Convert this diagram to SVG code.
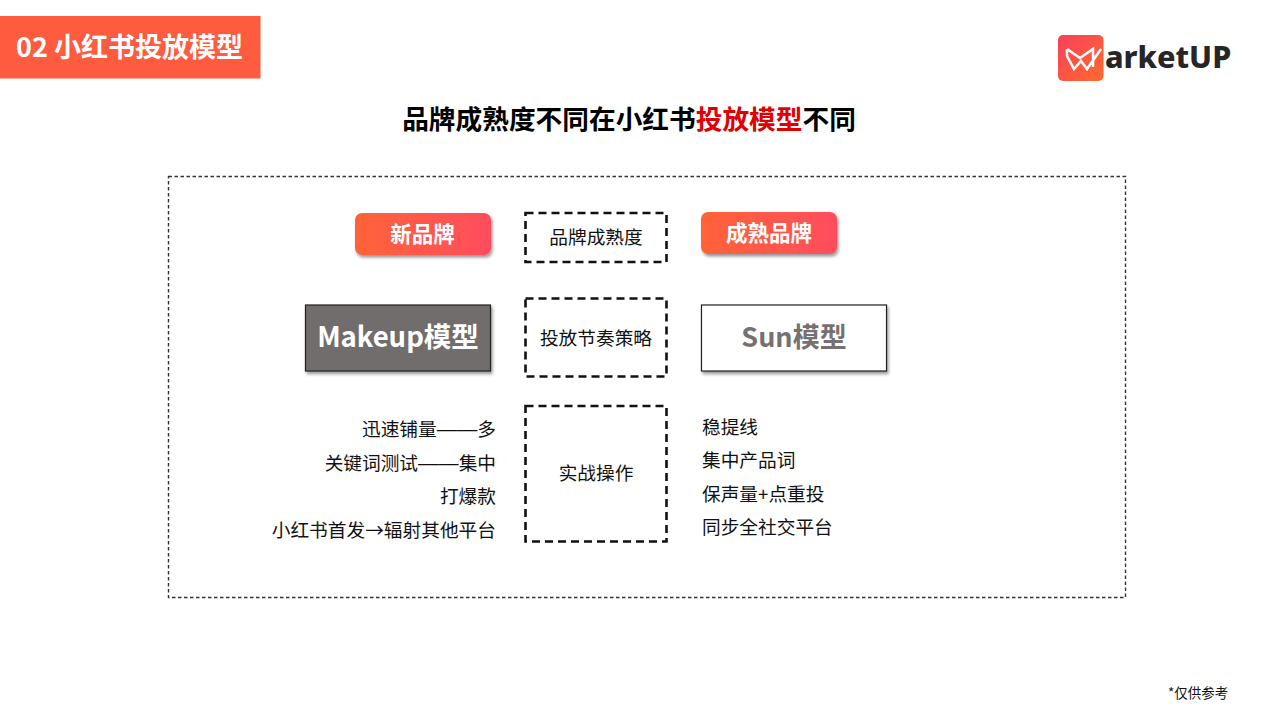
<svg xmlns="http://www.w3.org/2000/svg" width="1280" height="720" viewBox="0 0 1280 720">
<defs>
<linearGradient id="grad" x1="0" y1="0" x2="1" y2="0"><stop offset="0" stop-color="#ff6338"/><stop offset="1" stop-color="#ff4d5e"/></linearGradient>
<linearGradient id="logoGrad" x1="0" y1="0" x2="1" y2="1"><stop offset="0" stop-color="#f8405c"/><stop offset="1" stop-color="#ff6a2c"/></linearGradient>
<filter id="sh" x="-10%" y="-20%" width="125%" height="150%"><feDropShadow dx="1.5" dy="2.5" stdDeviation="1.800" flood-color="#000" flood-opacity="0.4"/></filter>
</defs>
<style>
text{font-family:"Microsoft YaHei","Noto Sans CJK SC","Noto Sans",sans-serif;fill:#111}
.b{font-weight:700}
.dash{fill:none;stroke:#111;stroke-width:2.600;stroke-dasharray:8 5}
.t{font-size:18.700px}
.r{text-anchor:end}
.c{text-anchor:middle}
.w{fill:#fff}
.long{font-family:"Liberation Sans",sans-serif;font-size:20.300px}
</style>
<rect width="1280" height="720" fill="#fff"/>
<g id="header"><rect x="0" y="16" width="260.500" height="62.500" fill="#ff5b3f"/><text class="b w" x="16" y="57" font-size="27">02 小红书投放模型</text></g>
<g id="logo">
<rect x="1058" y="35" width="45.500" height="46" rx="5" fill="url(#logoGrad)"/>
<path d="M1067 49l13 9 13-9v18M1067 49v7l7 13 7-8 6 8 14-20" fill="none" stroke="#fff" stroke-width="2.500"/>
<text class="b" x="1105" y="68" font-size="30.500" style="font-family:'Noto Sans',sans-serif;fill:#262626;font-weight:800">arketUP</text>
</g>
<text id="title" class="b c" x="629" y="129" font-size="26.700" style="fill:#000">品牌成熟度不同在小红书<tspan style="fill:#e00000">投放模型</tspan>不同</text>
<g id="frame"><rect x="168.500" y="176.500" width="957" height="421" fill="none" stroke="#333" stroke-width="1.400" stroke-dasharray="3.500 2.500"/></g>
<g id="new-brand"><rect x="355" y="213" width="136" height="42" rx="7" fill="url(#grad)" filter="url(#sh)"/><text class="b c w" x="422.500" y="241.500" font-size="21.500">新品牌</text></g>
<g id="mature-brand"><rect x="701" y="212" width="136" height="42" rx="7" fill="url(#grad)" filter="url(#sh)"/><text class="b c w" x="769" y="240.500" font-size="21.500">成熟品牌</text></g>
<g id="maturity"><rect class="dash" x="525.500" y="213" width="141" height="49"/><text class="c t" x="596" y="244">品牌成熟度</text></g>
<g id="makeup"><rect x="305.500" y="305" width="185" height="66" fill="#716d6c" stroke="#222" stroke-width="1.200" filter="url(#sh)"/><text class="b c w" x="398" y="347" font-size="27.500">Makeup模型</text></g>
<g id="rhythm"><rect class="dash" x="525.500" y="298.500" width="141" height="78"/><text class="c t" x="596" y="344.500">投放节奏策略</text></g>
<g id="sun"><rect x="701.500" y="305" width="185" height="66" fill="#fff" stroke="#222" stroke-width="1.200" filter="url(#sh)"/><text class="b c" x="794" y="347" font-size="27" style="fill:#767171">Sun模型</text></g>
<g id="practice"><rect class="dash" x="525.500" y="406" width="141" height="135.500"/><text class="c t" x="596" y="480">实战操作</text></g>
<g id="left-list">
<text class="t r" x="496" y="435.500">迅速铺量<tspan class="long">——</tspan>多</text>
<text class="t r" x="496" y="469.500">关键词测试<tspan class="long">——</tspan>集中</text>
<text class="t r" x="496" y="502.500">打爆款</text>
<text class="t r" x="496" y="536.500">小红书首发→辐射其他平台</text>
</g>
<g id="right-list">
<text class="t" x="702" y="433.500">稳提线</text>
<text class="t" x="702" y="466.500">集中产品词</text>
<text class="t" x="702" y="500.500">保声量+点重投</text>
<text class="t" x="702" y="533.500">同步全社交平台</text>
</g>
<text id="note" x="1168" y="698" font-size="13.500">*仅供参考</text>
</svg>
